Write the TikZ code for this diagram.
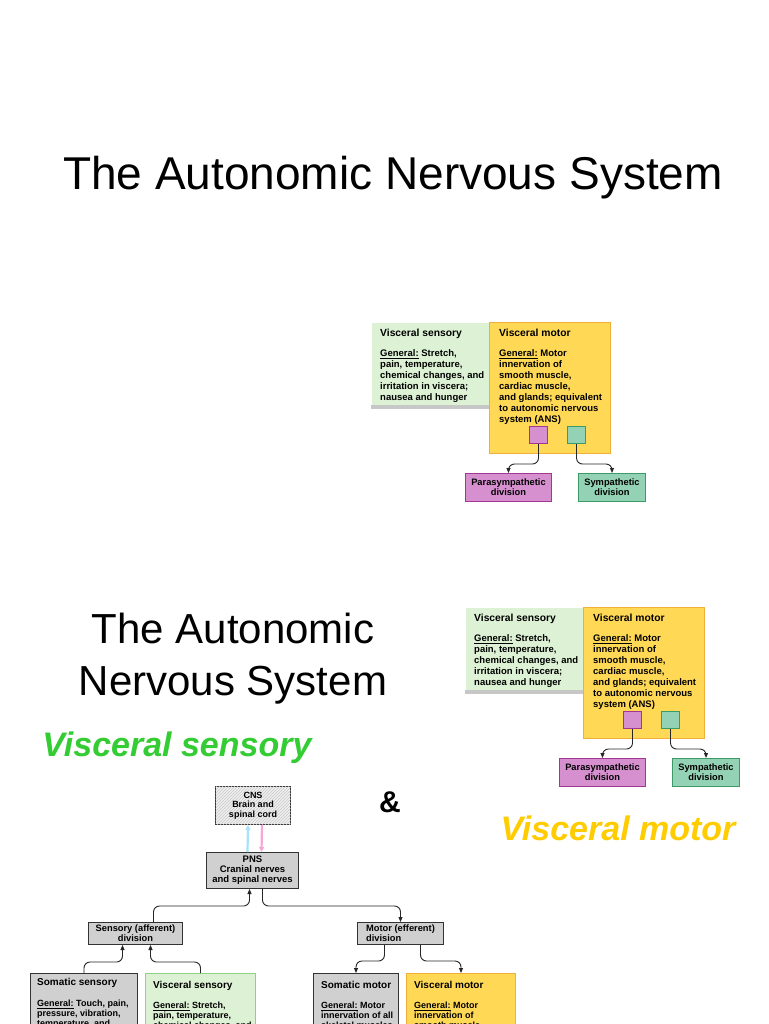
\documentclass[tikz,border=0pt]{standalone}
\usepackage{fontspec}
\setmainfont{Liberation Sans}
\usetikzlibrary{arrows.meta,patterns}

\definecolor{vsgreen}{HTML}{DDF1D4}
\definecolor{vsedge}{HTML}{8ED283}
\definecolor{vmyellow}{HTML}{FFD955}
\definecolor{vmedge}{HTML}{EFAF3A}
\definecolor{parafill}{HTML}{D690D0}
\definecolor{paraedge}{HTML}{A33593}
\definecolor{sympfill}{HTML}{93D2B4}
\definecolor{sympedge}{HTML}{3C9A66}
\definecolor{boxgray}{HTML}{D0D0D0}
\definecolor{ttlgreen}{HTML}{33CC33}
\definecolor{ttlyellow}{HTML}{FFCC00}

\tikzset{
  panel/.style={draw=black!80, line width=1pt, inner sep=0pt, anchor=north west},
  divbox/.style={panel, align=center, font=\fontsize{9.3}{10}\selectfont\bfseries},
  hdtxt/.style={font=\fontsize{10.3}{11}\selectfont\bfseries, anchor=base west, inner sep=0pt},
  bodytxt/.style={font=\fontsize{9.5}{11}\selectfont\bfseries, align=left, anchor=base west, inner sep=0pt},
  treetxt/.style={font=\fontsize{9}{10}\selectfont\bfseries, align=left, anchor=base west, inner sep=0pt},
  conn/.style={-{Triangle[length=5pt,width=4pt]}, line width=0.9pt, black!85, rounded corners=6pt},
}

\begin{document}
\begin{tikzpicture}[x=1pt,y=-1pt]
  \useasboundingbox (0,0) rectangle (768,1024);
  \clip (0,0) rectangle (768,1024);
  \fill[white] (0,0) rectangle (768,1024);

  \node[font=\fontsize{46}{52}\selectfont] (title) at (393,178) {The Autonomic Nervous System};

  % multi-line text nodes sit on the baseline of their last line
  \foreach \p/\dx/\dy in {1/0/0, 2/94/285} {
    \begin{scope}[shift={(\dx,\dy)}]
      \node[panel, draw=none, fill=vsgreen, minimum width=118pt, minimum height=86pt] (vs\p) at (371,322) {};
      \fill[black!22] (vs\p.south west) rectangle ([yshift=4pt]vs\p.south east);
      \node[panel, draw=vmedge, fill=vmyellow, minimum width=121pt, minimum height=131pt] (vm\p) at (489,322) {};
      \node[hdtxt] at (380,336.5) {Visceral sensory};
      \node[bodytxt] at (380,400.5) {\underline{General:} Stretch,\\pain, temperature,\\chemical changes, and\\irritation in viscera;\\nausea and hunger};
      \node[hdtxt] at (499,336.5) {Visceral motor};
      \node[bodytxt] at (499,422.5) {\underline{General:} Motor\\innervation of\\smooth muscle,\\cardiac muscle,\\and glands; equivalent\\to autonomic nervous\\system (ANS)};
      \node[panel, fill=parafill, draw=paraedge, minimum width=18pt, minimum height=17pt] (sqp\p) at (529,426) {};
      \node[panel, fill=sympfill, draw=sympedge, minimum width=18pt, minimum height=17pt] (sqs\p) at (567,426) {};
      \node[divbox, fill=parafill, draw=paraedge, minimum width=86pt, minimum height=28pt] (para\p) at (465,473) {Parasympathetic\\division};
      \node[divbox, fill=sympfill, draw=sympedge, minimum width=67pt, minimum height=28pt] (symp\p) at (578,473) {Sympathetic\\division};
      \draw[conn] (sqp\p.south) -- ++(0,20) -| (para\p.north);
      \draw[conn] (sqs\p.south) -- ++(0,20) -| (symp\p.north);
    \end{scope}
  }

  \node[font=\fontsize{42}{52}\selectfont, align=center] (subtitle) at (233,659) {The Autonomic\\Nervous System};
  \node[font=\fontsize{34}{40}\selectfont\bfseries\itshape, text=ttlgreen] (vslabel) at (177,748) {Visceral sensory};
  \node[font=\fontsize{30}{34}\selectfont\bfseries] (amp) at (390,802) {\&};
  \node[font=\fontsize{34}{40}\selectfont\bfseries\itshape, text=ttlyellow] (vmlabel) at (618,828) {Visceral motor};

  \node[divbox, fill=black!6, postaction={pattern=north east lines, pattern color=black!22}, minimum width=75pt, minimum height=38pt] (cns) at (215,786) {};
  \node[font=\fontsize{9}{9.5}\selectfont\bfseries, align=center] at (cns.center) {CNS\\Brain and\\spinal cord};
  \node[divbox, fill=boxgray, minimum width=92pt, minimum height=36pt, font=\fontsize{9.5}{10}\selectfont\bfseries] (pns) at (206,852) {PNS\\Cranial nerves\\and spinal nerves};
  \node[divbox, fill=boxgray, minimum width=94pt, minimum height=22pt] (sen) at (88,922) {Sensory (afferent)\\division};
  \node[divbox, fill=boxgray, align=left, minimum width=86pt, minimum height=22pt] (mot) at (357,922) {Motor (efferent)\\division};

  \node[panel, fill=boxgray, minimum width=107pt, minimum height=80pt] (ssom) at (30,973) {};
  \node[panel, fill=vsgreen, draw=vsedge, minimum width=110pt, minimum height=80pt] (svis) at (145,973) {};
  \node[panel, fill=boxgray, minimum width=85pt, minimum height=80pt] (msom) at (313,973) {};
  \node[panel, fill=vmyellow, draw=vmedge, minimum width=109pt, minimum height=80pt] (mvis) at (406,973) {};

  \node[hdtxt, font=\fontsize{10}{11}\selectfont\bfseries] at (37,985.5) {Somatic sensory};
  \node[treetxt] at (37,1026.5) {\underline{General:} Touch, pain,\\pressure, vibration,\\temperature, and};
  \node[hdtxt, font=\fontsize{10}{11}\selectfont\bfseries] at (153,988.5) {Visceral sensory};
  \node[treetxt] at (153,1028.5) {\underline{General:} Stretch,\\pain, temperature,\\chemical changes, and};
  \node[hdtxt, font=\fontsize{10}{11}\selectfont\bfseries] at (321,988.5) {Somatic motor};
  \node[treetxt] at (321,1028.5) {\underline{General:} Motor\\innervation of all\\skeletal muscles};
  \node[hdtxt, font=\fontsize{10}{11}\selectfont\bfseries] at (414,988.5) {Visceral motor};
  \node[treetxt] at (414,1028.5) {\underline{General:} Motor\\innervation of\\smooth muscle,};

  \draw[-{Triangle[length=5pt,width=5pt]}, line width=2.2pt, cyan!35] ([xshift=-5pt]pns.north) -- ([xshift=-5pt]cns.south);
  \draw[-{Triangle[length=5pt,width=5pt]}, line width=2.2pt, magenta!35] ([xshift=9pt]cns.south) -- ([xshift=9pt]pns.north);
  \draw[conn] ([xshift=18pt]sen.north) -- ++(0,-16) -| ([xshift=-3pt]pns.south);
  \draw[conn] ([xshift=10pt]pns.south) -- ++(0,17) -| (mot.north);
  \draw[conn] (ssom.north) -- ++(0,-11) -| ([xshift=-13pt]sen.south);
  \draw[conn] (svis.north) -- ++(0,-11) -| ([xshift=15pt]sen.south);
  \draw[conn] ([xshift=-16pt]mot.south) -- ++(0,16) -| (msom.north);
  \draw[conn] ([xshift=20pt]mot.south) -- ++(0,16) -| (mvis.north);
\end{tikzpicture}
\end{document}
